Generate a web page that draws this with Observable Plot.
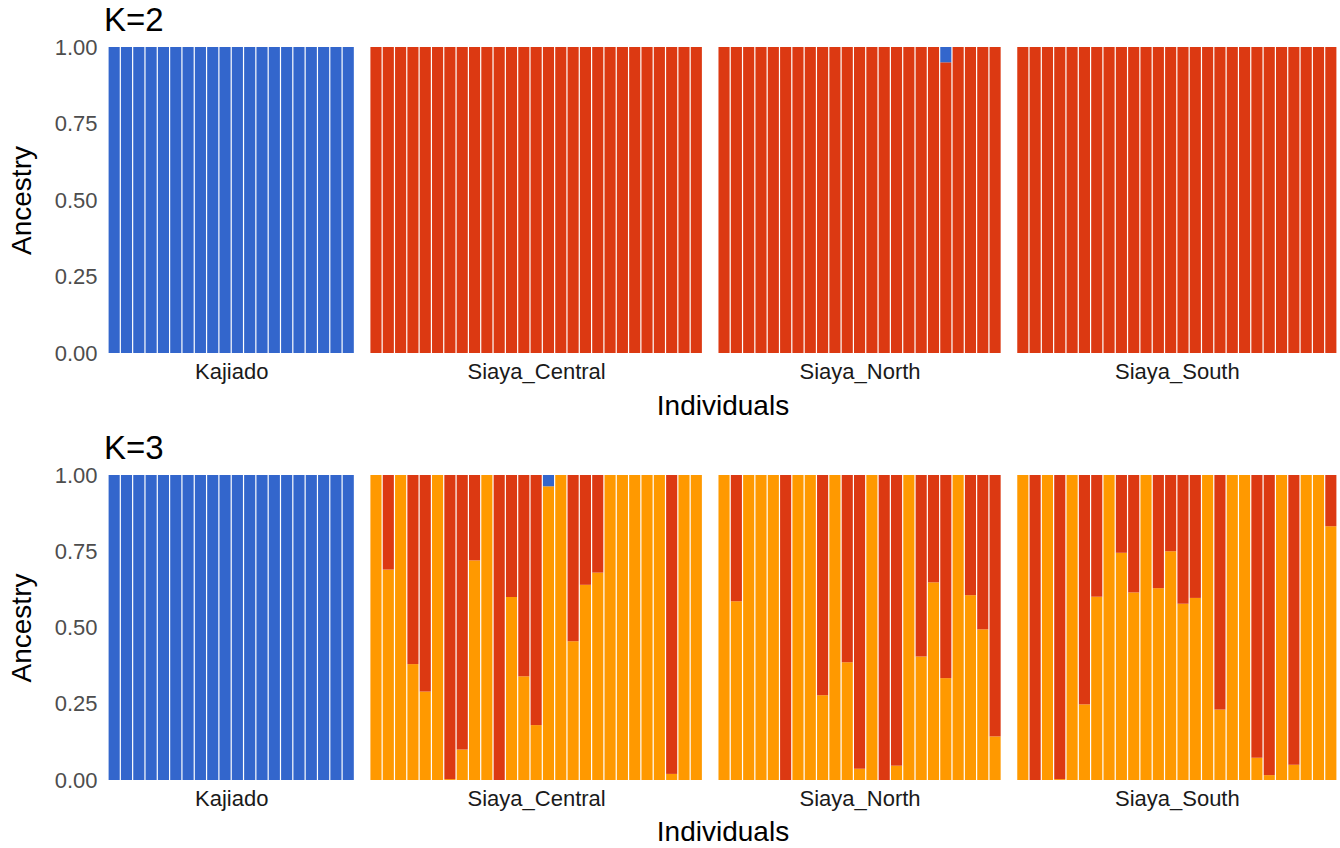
<!DOCTYPE html>
<html><head><meta charset="utf-8">
<script src="https://cdn.jsdelivr.net/npm/d3@7"></script>
<script src="https://cdn.jsdelivr.net/npm/@observablehq/plot@0.6"></script>
<style>
html,body{margin:0;padding:0;background:#fff;}
#wrap{position:relative;width:1340px;height:848px;font-family:"Liberation Sans",Arial,sans-serif;overflow:hidden;}
.ktitle{position:absolute;left:104px;font-size:33px;line-height:36px;color:#000;z-index:2;}
.panel{position:absolute;left:0;}
</style></head><body>
<div id="wrap">
  <div class="panel" id="p1" style="top:0px"></div>
  <div class="ktitle" style="top:2px">K=2</div>
  <div class="panel" id="p2" style="top:424px"></div>
  <div class="ktitle" style="top:430px">K=3</div>
</div>
<script>
// ---- data ----
const populations = ["Kajiado", "Siaya_Central", "Siaya_North", "Siaya_South"];
const clusters = ["Cluster 1", "Cluster 2", "Cluster 3"];
const clusterColors = ["#3366CC", "#DC3912", "#FF9900"];
const yTicks = [0, 0.25, 0.5, 0.75, 1];

// K=2 : ancestry proportion of cluster 1 (blue); the rest is cluster 2 (red)
const k2Blue_Kajiado = [1,1,1,1,1,1,1,1,1,1,1,1,1,1,1,1,1,1,1,1];
const k2Blue_Central = [0,0,0,0,0,0,0,0,0,0,0,0,0,0,0,0,0,0,0,0,0,0,0,0,0,0,0];
const k2Blue_North   = [0,0,0,0,0,0,0,0,0,0,0,0,0,0,0,0,0,0,0.05,0,0,0,0];
const k2Blue_South   = [0,0,0,0,0,0,0,0,0,0,0,0,0,0,0,0,0,0,0,0,0,0,0,0,0,0];

// K=3 : cluster 3 (orange) and cluster 1 (blue) proportions; the rest is cluster 2 (red)
const k3Orange_Kajiado = [0,0,0,0,0,0,0,0,0,0,0,0,0,0,0,0,0,0,0,0];
const k3Blue_Kajiado   = [1,1,1,1,1,1,1,1,1,1,1,1,1,1,1,1,1,1,1,1];
const k3Orange_Central = [1,0.69,1,0.38,0.29,1,0.003,0.10,0.72,1,0,0.60,0.34,0.18,0.963,1,0.455,0.64,0.68,1,1,1,1,1,0.02,1,1];
const k3Blue_Central   = [0,0,0,0,0,0,0,0,0,0,0,0,0,0,0.037,0,0,0,0,0,0,0,0,0,0,0,0];
const k3Orange_North   = [1,0.586,1,1,1,0,1,1,0.278,1,0.386,0.037,1,0,0.047,1,0.405,0.648,0.334,1,0.606,0.494,0.143];
const k3Blue_North     = [0,0,0,0,0,0,0,0,0,0,0,0,0,0,0,0,0,0,0,0,0,0,0];
const k3Orange_South   = [1,0,1,0.003,1,0.248,0.601,1,0.745,0.615,1,0.629,0.75,0.578,0.597,1,0.231,1,1,0.073,0.016,1,0.05,1,1,0.832];
const k3Blue_South     = [0,0,0,0,0,0,0,0,0,0,0,0,0,0,0,0,0,0,0,0,0,0,0,0,0,0];

// ---- build tables ----
const GAP = 1.25; // space between population groups, in individual-widths

const k2 = [k2Blue_Kajiado, k2Blue_Central, k2Blue_North, k2Blue_South].map(blue =>
  blue.map(b => [["Cluster 2", 1 - b], ["Cluster 1", b]]));
const k3 = [[k3Orange_Kajiado, k3Blue_Kajiado], [k3Orange_Central, k3Blue_Central],
            [k3Orange_North, k3Blue_North], [k3Orange_South, k3Blue_South]].map(([or, bl]) =>
  or.map((o, j) => [["Cluster 3", o], ["Cluster 2", Math.max(0, 1 - o - bl[j])], ["Cluster 1", bl[j]]]));

function buildRows(groups) {
  const rows = [], centers = [];
  let i = 0;
  groups.forEach((inds, g) => {
    const start = i + g * GAP;
    inds.forEach((parts) => {
      const x1 = i + g * GAP;
      let acc = 0;
      for (const [cluster, v] of parts) {
        if (v > 0) rows.push({x1, x2: x1 + 1, y1: acc, y2: Math.min(1, acc + v), cluster});
        acc += v;
      }
      i++;
    });
    centers.push({name: populations[g], x: (start + i + g * GAP) / 2});
  });
  return {rows, centers, total: i + (groups.length - 1) * GAP};
}

function panel(groups, marginTop, marginBottom, xLabelDy) {
  const {rows, centers, total} = buildRows(groups);
  return Plot.plot({
    width: 1340, height: 424,
    marginLeft: 108, marginRight: 3, marginTop, marginBottom,
    style: {fontFamily: '"Liberation Sans", Arial, sans-serif', background: "white", overflow: "visible"},
    x: {domain: [0, total], axis: null},
    y: {domain: [0, 1]},
    color: {domain: clusters, range: clusterColors},
    marks: [
      Plot.rect(rows, {x1: "x1", x2: "x2", y1: "y1", y2: "y2", fill: "cluster", insetLeft: 0.6, insetRight: 0.6}),
      Plot.axisY({ticks: yTicks, tickFormat: d3.format(".2f"), tickSize: 0, tickPadding: 11, fontSize: 22, fill: "#4d4d4d", label: null}),
      Plot.text(centers, {x: "x", text: "name", frameAnchor: "bottom", lineAnchor: "middle", dy: 18, fontSize: 22, fill: "#1a1a1a"}),
      Plot.text(["Individuals"], {text: d => d, frameAnchor: "bottom", lineAnchor: "middle", dy: xLabelDy, fontSize: 28, fill: "#000"}),
      Plot.text(["Ancestry"], {text: d => d, frameAnchor: "left", textAnchor: "middle", lineAnchor: "middle", rotate: -90, dx: -86, fontSize: 28, fill: "#000"})
    ]
  });
}

document.getElementById("p1").append(panel(k2, 47, 71, 53));
document.getElementById("p2").append(panel(k3, 51, 68, 52));
</script>
</body></html>
